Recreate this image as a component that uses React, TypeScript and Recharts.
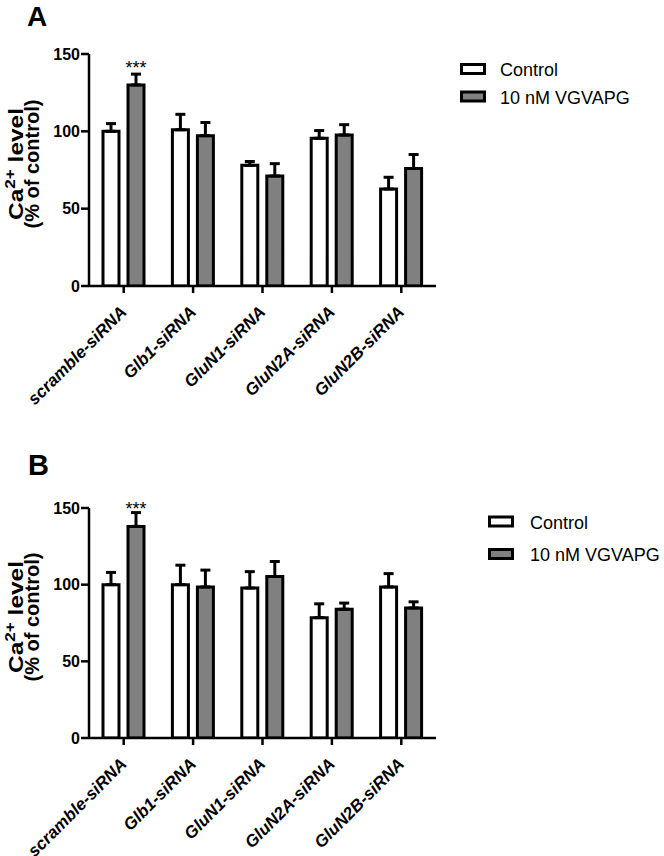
import React from "react"
import { Bar, BarChart, ErrorBar, LabelList, XAxis, YAxis } from "recharts"

const categories = ["scramble-siRNA", "Glb1-siRNA", "GluN1-siRNA", "GluN2A-siRNA", "GluN2B-siRNA"]
const yTicks = [0, 50, 100, 150]

// Panel A
const controlA = [100, 101, 78, 95.5, 62.7]
const controlErrA = [5, 10, 2.5, 5, 7.6]
const vgvapgA = [130, 97.2, 71.1, 97.6, 76]
const vgvapgErrA = [7, 8.5, 8, 6.7, 9]
const sigA = ["***", "", "", "", ""]

// Panel B
const controlB = [100, 100, 97.8, 78.5, 98.5]
const controlErrB = [8, 12.7, 10.7, 9, 8.7]
const vgvapgB = [138, 98.5, 105.3, 84, 84.8]
const vgvapgErrB = [9, 11, 9.8, 4, 4]
const sigB = ["***", "", "", "", ""]

const FONT = "'Liberation Sans', Arial, Helvetica, sans-serif"
const GREY = "#808080"

const buildRows = (ctrl: number[], ctrlErr: number[], trt: number[], trtErr: number[], sig: string[]) =>
  categories.map((name, i) => ({
    name,
    control: ctrl[i],
    controlErr: [0, ctrlErr[i]], // only the upper half is drawn
    vgvapg: trt[i],
    vgvapgErr: [0, trtErr[i]],
    sig: sig[i],
  }))

const CategoryTick = (props: any) => {
  const { x, y, payload } = props
  const tx = x + 4
  const ty = y + 18
  return (
    <text
      x={tx}
      y={ty}
      transform={`rotate(-45, ${tx}, ${ty})`}
      textAnchor="end"
      fontSize={17}
      fontWeight="bold"
      fontStyle="italic"
      fontFamily={FONT}
      fill="#000"
    >
      {payload.value}
    </text>
  )
}

const YLabel = (props: any) => {
  const vb = props.viewBox
  const cy = vb.y + vb.height / 2 - 6
  return (
    <g fontFamily={FONT} fontWeight="bold" fill="#000">
      <text
        transform={`translate(23, ${cy}) rotate(-90)`}
        textAnchor="middle"
        fontSize={20}
        textLength={112}
        lengthAdjust="spacingAndGlyphs"
      >
        Ca<tspan dy={-8} fontSize={14}>2+</tspan>
        <tspan dy={8}>{" level"}</tspan>
      </text>
      <text transform={`translate(39, ${cy}) rotate(-90)`} textAnchor="middle" fontSize={20}>
        (% of control)
      </text>
    </g>
  )
}

interface PanelProps {
  rows: ReturnType<typeof buildRows>
  height: number
  top: number
  xAxisHeight: number
}

const Panel = ({ rows, height, top, xAxisHeight }: PanelProps) => (
  <BarChart
    width={664}
    height={height}
    data={rows}
    margin={{ top, right: 228, bottom: 4, left: 0 }}
    barSize={16}
    barGap={9}
  >
    <XAxis
      dataKey="name"
      interval={0}
      height={xAxisHeight}
      tick={<CategoryTick />}
      tickSize={7}
      axisLine={{ stroke: "#000", strokeWidth: 2.5 }}
      tickLine={{ stroke: "#000", strokeWidth: 2.5 }}
    />
    <YAxis
      width={89}
      domain={[0, 150]}
      ticks={yTicks}
      allowDataOverflow
      tickSize={8}
      tickMargin={1}
      tick={{ fontSize: 16, fontWeight: "bold", fill: "#000", fontFamily: FONT }}
      axisLine={{ stroke: "#000", strokeWidth: 2.5 }}
      tickLine={{ stroke: "#000", strokeWidth: 2.5 }}
      label={{ content: (p: any) => <YLabel {...p} /> }}
    />
    <Bar dataKey="control" fill="#fff" stroke="#000" strokeWidth={3} isAnimationActive={false}>
      <ErrorBar dataKey="controlErr" direction="y" width={5} stroke="#000" strokeWidth={3} isAnimationActive={false} />
    </Bar>
    <Bar dataKey="vgvapg" fill={GREY} stroke="#000" strokeWidth={3} isAnimationActive={false}>
      <ErrorBar dataKey="vgvapgErr" direction="y" width={5} stroke="#000" strokeWidth={3} isAnimationActive={false} />
      <LabelList dataKey="sig" position="top" offset={11} fontSize={18} fill="#000" fontFamily={FONT} />
    </Bar>
  </BarChart>
)

const LegendBlock = ({ x, y1, y2, textX }: { x: number; y1: number; y2: number; textX: number }) => (
  <g fontFamily={FONT} fontSize={18} fill="#000">
    <rect x={x + 1.5} y={y1 - 4.5} width={23} height={9} fill="#fff" stroke="#000" strokeWidth={3} />
    <text x={textX} y={y1 + 7}>Control</text>
    <rect x={x + 1.5} y={y2 - 4.5} width={23} height={9} fill={GREY} stroke="#000" strokeWidth={3} />
    <text x={textX} y={y2 + 7}>10 nM VGVAPG</text>
  </g>
)

export default function App() {
  const rowsA = buildRows(controlA, controlErrA, vgvapgA, vgvapgErrA, sigA)
  const rowsB = buildRows(controlB, controlErrB, vgvapgB, vgvapgErrB, sigB)

  return (
    <div style={{ position: "absolute", left: 0, top: 0, width: 664, height: 856, background: "#fff", overflow: "hidden", fontFamily: FONT }}>
      <div style={{ position: "absolute", left: 0, top: 0 }}>
        <Panel rows={rowsA} height={430} top={54} xAxisHeight={140} />
      </div>
      <div style={{ position: "absolute", left: 0, top: 440 }}>
        <Panel rows={rowsB} height={416} top={68} xAxisHeight={114} />
      </div>
      <svg width={664} height={856} style={{ position: "absolute", left: 0, top: 0, pointerEvents: "none" }}>
        <text x={27} y={25.5} fontSize={28} fontWeight="bold" fontFamily={FONT}>A</text>
        <text x={28} y={475} fontSize={29} fontWeight="bold" fontFamily={FONT}>B</text>
        <LegendBlock x={460} y1={69} y2={96.5} textX={500} />
        <LegendBlock x={488} y1={521.5} y2={554} textX={530} />
      </svg>
    </div>
  )
}
